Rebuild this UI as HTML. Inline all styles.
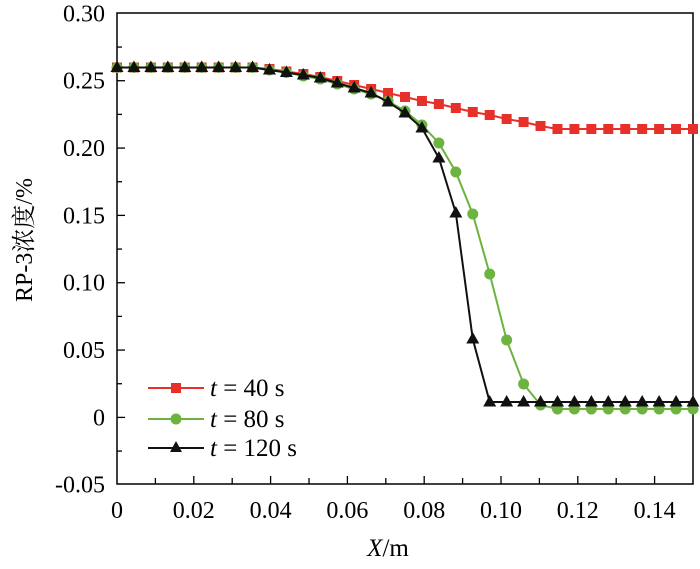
<!DOCTYPE html>
<html><head><meta charset="utf-8"><style>body{margin:0;background:#fff}</style></head><body>
<svg id="s" width="700" height="564" xmlns="http://www.w3.org/2000/svg" font-family="'Liberation Serif','Noto Serif CJK SC',serif">
<rect width="700" height="564" fill="#fff"/>
<g id="ax" stroke="#000" stroke-width="1.5" fill="none">
<rect x="117" y="13" width="576" height="471"/>
</g>
<g id="ticks" stroke="#000" stroke-width="1.3"></g>
<g id="lbl" font-size="24" fill="#000"></g>
<g id="series"></g>
<text x="388" y="556" font-size="25" text-anchor="middle"><tspan font-style="italic">X</tspan>/m</text>
<text transform="translate(32,240) rotate(-90)" font-size="24" text-anchor="middle">RP-3浓度/%</text>
<g font-size="25">
<line x1="148" y1="388" x2="204" y2="388" stroke="#e8302a" stroke-width="2"/><rect x="171" y="383" width="10" height="10" fill="#e8302a"/>
<text x="210" y="396"><tspan font-style="italic">t</tspan> = 40 s</text>
<line x1="148" y1="419" x2="204" y2="419" stroke="#6db33f" stroke-width="2"/><circle cx="176" cy="419" r="5.5" fill="#6db33f"/>
<text x="210" y="427"><tspan font-style="italic">t</tspan> = 80 s</text>
<line x1="148" y1="448" x2="204" y2="448" stroke="#111" stroke-width="2"/><path d="M176,441 L182,452 L170,452Z" fill="#111"/>
<text x="210" y="456"><tspan font-style="italic">t</tspan> = 120 s</text>
</g>
</svg>
<script>
const NS="http://www.w3.org/2000/svg";
function el(p,t,a,txt){const e=document.createElementNS(NS,t);for(const k in a)e.setAttribute(k,a[k]);if(txt!==undefined)e.textContent=txt;document.getElementById(p).appendChild(e);return e;}
const y0=417.4,py=1346.7,x0=117,px=3840;
for(let v=-0.05;v<=0.3001;v+=0.025){const y=y0-v*py;const maj=Math.abs(Math.round(v/0.05)*0.05-v)<1e-6;
 if(v>-0.049&&v<0.299)el("ticks","line",{x1:117,y1:y,x2:117+(maj?8:5),y2:y});
 if(maj){let s=Math.abs(v)<1e-6?"0":v.toFixed(2);el("lbl","text",{x:105,y:y+8,"text-anchor":"end"},s);}}
for(let v=0;v<=0.1501;v+=0.01){const x=x0+v*px;const maj=Math.round(v*100)%2==0;
 if(v>0.001&&v<0.149)el("ticks","line",{x1:x,y1:484,x2:x,y2:484-(maj?8:6)});
 if(maj){let s=v<1e-6?"0":v.toFixed(2);el("lbl","text",{x:x,y:518,"text-anchor":"middle"},s);}}
const X=i=>117+i*576/34;
const red=[67.5,67.5,67.5,67.5,67.5,67.5,67.5,67.5,67.5,69,71.5,74,77,81,85,89,93,97,101,104,108,112,115,119,122,126,129,129,129,129,129,129,129,129,129];
const green=[67.5,67.5,67.5,67.5,67.5,67.5,67.5,67.5,67.5,70,72.5,76,79,84,89,94,101,111,125,143,172,214,274,340,384,405,409,409,409,409,409,409,409,409,409];
const black=[67.5,67.5,67.5,67.5,67.5,67.5,67.5,67.5,67.5,70,72.5,75,78,83,88,93,102,113,128,158,213,339,402,402,402,402,402,402,402,402,402,402,402,402,402];
function series(d,c,m){el("series","polyline",{points:d.map((y,i)=>X(i)+","+y).join(" "),fill:"none",stroke:c,"stroke-width":2});
 d.forEach((y,i)=>{const x=X(i);
  if(m=="s")el("series","rect",{x:x-5,y:y-5,width:10,height:10,fill:c});
  else if(m=="c")el("series","circle",{cx:x,cy:y,r:5.5,fill:c});
  else el("series","path",{d:`M${x},${y-7} L${x+6.5},${y+4.5} L${x-6.5},${y+4.5}Z`,fill:c});});}
series(red,"#e8302a","s");series(green,"#6db33f","c");series(black,"#111","t");
</script>
</body></html>
